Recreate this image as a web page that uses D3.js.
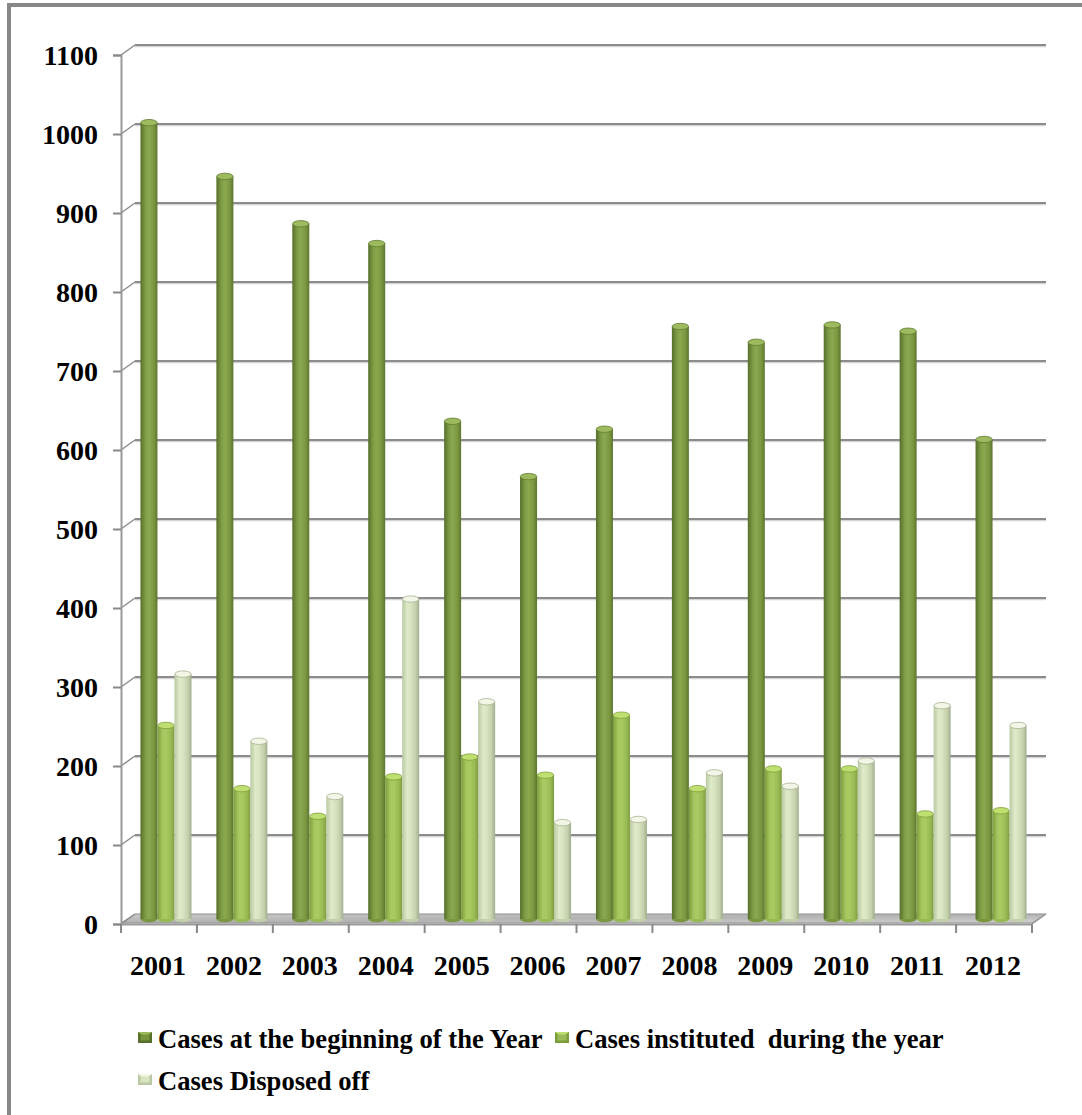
<!DOCTYPE html>
<html>
<head>
<meta charset="utf-8">
<script src="https://cdn.jsdelivr.net/npm/d3@7"></script>
<style>
  html, body { margin: 0; padding: 0; background: #fff; }
  svg { display: block; }
  text { font-family: "Liberation Serif", "Times New Roman", serif; font-weight: bold; fill: #000; }
</style>
</head>
<body>
<svg id="chart" width="1082" height="1115"></svg>
<script>
// Pending-case statistics, 2001–2012
const years = ["2001","2002","2003","2004","2005","2006","2007","2008","2009","2010","2011","2012"];
const seriesNames = [
  "Cases at the beginning of the Year",
  "Cases instituted  during the year",
  "Cases Disposed off"
];
const beginningOfYear = [1008, 940, 880, 855, 630, 560, 620, 750, 730, 752, 744, 607];
const institutedDuringYear = [245, 165, 130, 180, 205, 182, 258, 165, 190, 190, 133, 137];
const disposedOff = [310, 225, 155, 405, 275, 122, 126, 185, 168, 200, 270, 245];
const yTicks = [0, 100, 200, 300, 400, 500, 600, 700, 800, 900, 1000, 1100];

const series = [beginningOfYear, institutedDuringYear, disposedOff];

const svg = d3.select("#chart");
const defs = svg.append("defs");

// Cylinder shading per series: [left edge, highlight, body, right edge, cap]
const palettes = [
  { stops: ["#566f2b", "#7f9d45", "#8aa94f", "#7a963f", "#5b7530"], cap: "#9dbb5e", capEdge: "#5f7a30", legend: "#77933c" },
  { stops: ["#7c9d3c", "#a5c75f", "#a9cb62", "#98ba53", "#7e9c40"], cap: "#bfe070", capEdge: "#7f9e3c", legend: "#9bbb59" },
  { stops: ["#b9c8a2", "#dfeac9", "#d8e5c0", "#c3d0ab", "#a2ac8e"], cap: "#f1f6e6", capEdge: "#a7b393", legend: "#d7e4bd" }
];
palettes.forEach((p, i) => {
  const g = defs.append("linearGradient").attr("id", "cyl" + i)
    .attr("x1", "0%").attr("x2", "100%").attr("y1", "0%").attr("y2", "0%");
  [0, 30, 50, 80, 100].forEach((o, k) => g.append("stop").attr("offset", o + "%").attr("stop-color", p.stops[k]));
});
const floorGrad = defs.append("linearGradient").attr("id", "floorGrad")
  .attr("x1", "0%").attr("x2", "100%").attr("y1", "0%").attr("y2", "100%");
floorGrad.append("stop").attr("offset", "0%").attr("stop-color", "#c9c9c9");
floorGrad.append("stop").attr("offset", "50%").attr("stop-color", "#b3b3b3");
floorGrad.append("stop").attr("offset", "100%").attr("stop-color", "#d2d2d2");

// Outer frame
svg.append("rect").attr("x", 9).attr("y", 5).attr("width", 1300).attr("height", 1300)
  .attr("fill", "none").attr("stroke", "#878787").attr("stroke-width", 4);

// Scales (front plane of the 3D box); depth offset for the back wall
const y = d3.scaleLinear().domain([0, 1100]).range([924, 55]);
const x = d3.scaleBand().domain(years).range([121, 1032]).paddingInner(0).paddingOuter(0);
const depth = { dx: 14, dy: -10 };
const mid = { dx: 7, dy: -5 };

// Back-wall gridlines with slanted connectors to the front axis
const gridG = svg.append("g");
yTicks.filter(t => t > 0).forEach(t => {
  const yf = y(t), yb = y(t) + depth.dy;
  gridG.append("line").attr("x1", x.range()[0] + depth.dx).attr("x2", x.range()[1] + depth.dx)
    .attr("y1", yb + 1.5).attr("y2", yb + 1.5).attr("stroke", "#d4d4d4").attr("stroke-width", 1.5);
  gridG.append("line").attr("x1", x.range()[0] + depth.dx).attr("x2", x.range()[1] + depth.dx)
    .attr("y1", yb).attr("y2", yb).attr("stroke", "#8c8c8c").attr("stroke-width", 2);
  gridG.append("line").attr("x1", x.range()[0]).attr("y1", yf)
    .attr("x2", x.range()[0] + depth.dx).attr("y2", yb).attr("stroke", "#8c8c8c").attr("stroke-width", 1.5);
});

// Floor slab
const x0 = x.range()[0], x1 = x.range()[1], y0 = y(0);
svg.append("polygon")
  .attr("points", [[x0, y0 - 1], [x1, y0 - 1], [x1 + depth.dx, y0 + depth.dy], [x0 + depth.dx, y0 + depth.dy]].map(p => p.join(",")).join(" "))
  .attr("fill", "url(#floorGrad)").attr("stroke", "#8f8f8f").attr("stroke-width", 1);
svg.append("line").attr("x1", x0).attr("x2", x0 + depth.dx).attr("y1", y0).attr("y2", y0 + depth.dy)
  .attr("stroke", "#8c8c8c").attr("stroke-width", 1.5);

// Y axis (front)
const yAxis = d3.axisLeft(y).tickValues(yTicks).tickSize(8).tickFormat(d3.format("d"));
const yAxisG = svg.append("g").attr("transform", `translate(${x0},0)`).call(yAxis);
yAxisG.select(".domain").attr("stroke", "#999").attr("stroke-width", 2);
yAxisG.selectAll(".tick line").attr("stroke", "#888").attr("stroke-width", 2);
yAxisG.selectAll(".tick text").attr("x", -23).attr("dy", "0.34em")
  .style("font-size", "28px").style("font-family", "'Liberation Serif', serif").style("font-weight", "bold").attr("fill", "#000");

// X axis (front)
const xAxisG = svg.append("g").attr("transform", `translate(0,${y0})`)
  .call(d3.axisBottom(x).tickSize(0).tickPadding(0).tickFormat(""));
xAxisG.select(".domain").attr("stroke", "#999").attr("stroke-width", 2);
xAxisG.selectAll(".tick").remove();
const bounds = years.map(yr => x(yr)).concat([x1]);
svg.append("g").selectAll("line").data(bounds).join("line")
  .attr("x1", d => d).attr("x2", d => d).attr("y1", y0).attr("y2", y0 + 9)
  .attr("stroke", "#888").attr("stroke-width", 2);
svg.append("line").attr("x1", x1).attr("x2", x1 + depth.dx).attr("y1", y0).attr("y2", y0 + depth.dy)
  .attr("stroke", "#999").attr("stroke-width", 1.5);
svg.append("g").selectAll("text").data(years).join("text")
  .attr("x", d => x(d) + x.bandwidth() / 2 - 1).attr("y", 975)
  .attr("text-anchor", "middle").style("font-size", "28px").text(d => d);

// Cylinders
const barW = 17;
const groupW = barW * 3;
const capRy = 3.2;
const barsG = svg.append("g");
years.forEach((yr, i) => {
  const gx = x(yr) + (x.bandwidth() - groupW) / 2 + mid.dx;
  series.forEach((vals, s) => {
    const v = vals[i];
    const left = gx + s * barW;
    const top = y(v) + mid.dy;
    const bottom = y(0) + mid.dy;
    const p = palettes[s];
    const g = barsG.append("g");
    g.append("ellipse").attr("cx", left + barW / 2).attr("cy", bottom)
      .attr("rx", barW / 2).attr("ry", capRy).attr("fill", p.stops[3]);
    g.append("rect").attr("x", left).attr("y", top).attr("width", barW).attr("height", bottom - top)
      .attr("fill", `url(#cyl${s})`);
    g.append("ellipse").attr("cx", left + barW / 2).attr("cy", top)
      .attr("rx", barW / 2 - 0.3).attr("ry", capRy).attr("fill", p.cap)
      .attr("stroke", p.capEdge).attr("stroke-width", 0.8);
  });
});

// Legend
const legendItems = [
  { name: seriesNames[0], x: 138, y: 1048, s: 0 },
  { name: seriesNames[1], x: 555, y: 1048, s: 1 },
  { name: seriesNames[2], x: 138, y: 1090, s: 2 }
];
const legendG = svg.append("g");
legendItems.forEach(it => {
  const p = palettes[it.s];
  const mx = it.x, my = it.y - 16;
  legendG.append("rect").attr("x", mx).attr("y", my).attr("width", 14).attr("height", 11)
    .attr("fill", p.stops[0]);
  legendG.append("polygon")
    .attr("points", `${mx},${my} ${mx + 14},${my} ${mx + 7},${my + 5.5}`).attr("fill", p.cap);
  legendG.append("rect").attr("x", mx + 2.5).attr("y", my + 2.5).attr("width", 9).attr("height", 6)
    .attr("fill", p.legend);
  legendG.append("text").attr("x", mx + 20).attr("y", it.y)
    .style("font-size", "26.6px").style("white-space", "pre").text(it.name);
});
</script>
</body>
</html>
